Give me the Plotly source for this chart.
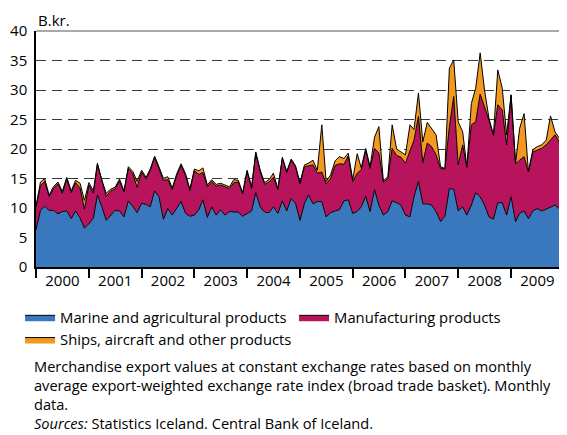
import plotly.graph_objects as go
import pandas as pd

# Monthly observations, Jan 2000 - Feb 2010 (chart is cropped just after Jan 2010)
months = pd.date_range("2000-01-01", "2010-02-01", freq="MS")

marine = [
    6.3, 9.6, 10.3, 9.6, 9.6, 9.0, 9.4, 9.5, 8.2, 9.5, 8.3, 6.6,
    7.3, 8.3, 12.2, 10.2, 7.9, 8.7, 9.6, 9.5, 8.5, 11.2, 10.3, 9.2,
    10.8, 10.6, 10.2, 12.9, 11.9, 8.1, 9.9, 8.8, 9.9, 11.1, 9.1, 8.6,
    8.8, 9.7, 11.4, 8.4, 10.2, 8.8, 9.7, 8.8, 9.4, 9.4, 9.3, 8.6,
    9.0, 9.5, 12.6, 10.2, 9.3, 9.2, 10.2, 9.1, 11.2, 9.5, 11.6, 10.8,
    7.9, 10.8, 12.2, 10.7, 11.1, 11.1, 8.5, 9.2, 9.5, 9.7, 11.2, 11.4,
    9.1, 9.4, 10.2, 12.0, 9.4, 13.1, 10.5, 8.8, 9.4, 11.2, 10.9, 10.5,
    8.8, 8.5, 11.9, 14.5, 10.7, 10.7, 10.5, 9.4, 7.7, 8.6, 13.3, 13.2,
    9.5, 10.2, 8.8, 10.5, 12.6, 11.9, 10.5, 8.5, 8.1, 10.9, 10.9, 8.8,
    11.9, 7.7, 9.1, 9.5, 8.2, 9.5, 9.9, 9.5, 9.8, 10.1, 10.5, 9.9,
    8.8, 6.8,
]

manufacturing = [
    3.8, 4.2, 4.2, 2.3, 3.7, 5.1, 3.1, 5.4, 4.4, 4.8, 5.1, 3.2,
    6.6, 4.2, 5.2, 4.2, 4.1, 4.2, 3.6, 5.1, 4.2, 5.5, 5.5, 4.3,
    5.3, 4.3, 6.1, 5.6, 4.8, 6.6, 4.9, 4.3, 5.6, 6.1, 6.4, 4.3,
    7.5, 6.0, 4.6, 5.2, 4.3, 4.9, 4.2, 4.8, 3.9, 4.9, 5.1, 3.8,
    7.2, 3.8, 6.7, 5.9, 4.7, 5.2, 5.0, 4.0, 7.2, 6.5, 6.5, 6.1,
    6.2, 6.2, 4.9, 6.6, 4.8, 5.0, 5.6, 5.8, 7.7, 7.8, 6.2, 7.4,
    5.4, 6.5, 6.3, 7.8, 7.3, 7.0, 8.8, 5.6, 5.6, 8.9, 8.0, 8.1,
    8.8, 11.0, 9.6, 11.0, 7.0, 10.3, 9.9, 9.6, 9.0, 8.0, 10.5, 15.7,
    7.8, 10.5, 8.1, 13.6, 12.0, 17.4, 16.7, 16.4, 14.2, 16.6, 15.7, 11.9,
    17.2, 9.8, 9.0, 9.2, 7.9, 10.0, 9.9, 10.6, 10.9, 11.4, 11.9, 11.3,
    11.6, 12.0,
]

ships = [
    0.2, 0.6, 0.5, 0.3, 0.3, 0.3, 0.3, 0.3, 0.3, 0.4, 0.8, 1.5,
    0.4, 0.4, 0.2, 0.3, 0.5, 0.3, 0.3, 0.3, 0.2, 0.3, 0.4, 1.0,
    0.3, 0.3, 0.3, 0.3, 0.3, 0.3, 0.5, 0.3, 0.3, 0.3, 0.3, 0.3,
    0.3, 0.6, 0.8, 0.3, 0.3, 0.3, 0.3, 0.3, 0.3, 0.5, 0.3, 0.2,
    0.2, 0.3, 0.2, 0.3, 0.3, 0.4, 0.7, 0.2, 0.2, 0.2, 0.2, 0.3,
    0.2, 0.3, 0.5, 0.8, 0.5, 8.0, 0.4, 0.6, 0.8, 1.2, 1.0, 0.5,
    0.3, 3.3, 0.3, 0.3, 0.3, 1.9, 4.5, 0.2, 0.3, 4.0, 1.1, 0.9,
    1.4, 4.6, 1.8, 4.0, 3.5, 3.5, 3.1, 3.4, 0.3, 0.1, 9.9, 6.2,
    7.3, 2.2, 0.1, 3.6, 5.7, 7.0, 2.8, 0.3, 0.1, 5.9, 3.7, 1.7,
    0.1, 0.1, 5.4, 7.3, 0.1, 0.4, 0.6, 0.6, 0.8, 4.1, 0.5, 0.6,
    0.3, 0.2,
]

y_ticks = [0, 5, 10, 15, 20, 25, 30, 35, 40]

series = [
    ("Marine and agricultural products", marine, "#3a78bd"),
    ("Manufacturing products", manufacturing, "#b8145e"),
    ("Ships, aircraft and other products", ships, "#f4991f"),
]

FONT = "Open Sans"

fig = go.Figure()
for name, vals, col in series:
    fig.add_trace(go.Scatter(
        x=months, y=vals, name=name, stackgroup="one", mode="lines",
        line=dict(color="black", width=1), fillcolor=col,
    ))

# the page body adds an 8px offset, so the figure is sized to fit the window
fig.update_layout(
    width=559, height=427,
    margin=dict(l=28, r=0, t=23, b=168, autoexpand=False),
    plot_bgcolor="white", paper_bgcolor="white",
    font=dict(family=FONT, size=15, color="black"),
    showlegend=True,
    legend=dict(
        orientation="h", traceorder="normal",
        x=-0.03, xanchor="left", y=-0.145, yanchor="top",
        entrywidth=229, entrywidthmode="pixels",
        font=dict(family=FONT, size=14.8, color="black"),
        tracegroupgap=0, itemclick=False, bgcolor="rgba(0,0,0,0)",
    ),
    xaxis=dict(
        type="date", range=["2000-01-01", "2010-01-23"],
        tick0="2000-01-01", dtick="M12", tickformat="%Y",
        ticklabelmode="period", ticks="outside", ticklen=9, tickwidth=1.5,
        tickcolor="black", showline=True, linecolor="black", linewidth=1.5,
        showgrid=False, zeroline=False, tickfont=dict(size=15),
        ticklabelstandoff=-10,
    ),
    yaxis=dict(
        range=[0, 40], tickvals=y_ticks, ticks="", showline=True,
        linecolor="black", linewidth=1.5, showgrid=True, gridcolor="#3a3a3a",
        gridwidth=1.2, griddash="10px,6px", zeroline=False,
        tickfont=dict(size=15), ticklabelstandoff=4,
    ),
    shapes=[dict(type="line", xref="paper", yref="paper", x0=0, x1=1, y0=1, y1=1,
                 line=dict(color="#555555", width=1.2))],
    annotations=[
        dict(text="B.kr.", xref="paper", yref="paper", x=0, y=1.047,
             xanchor="left", yanchor="middle", showarrow=False,
             font=dict(size=15)),
        dict(text="Merchandise export values at constant exchange rates based on monthly<br>"
                  "average export-weighted exchange rate index (broad trade basket). Monthly<br>"
                  "data.",
             xref="paper", yref="paper", x=0, xshift=-3, y=-0.3708, xanchor="left",
             yanchor="top", align="left", showarrow=False, borderpad=0,
             font=dict(size=14.6)),
        dict(text="<i>Sources:</i> Statistics Iceland. Central Bank of Iceland.",
             xref="paper", yref="paper", x=0, xshift=-3, y=-0.7097, xanchor="left",
             yanchor="bottom", align="left", showarrow=False, borderpad=0,
             font=dict(size=14.6)),
    ],
)

fig.write_html("out.html")
